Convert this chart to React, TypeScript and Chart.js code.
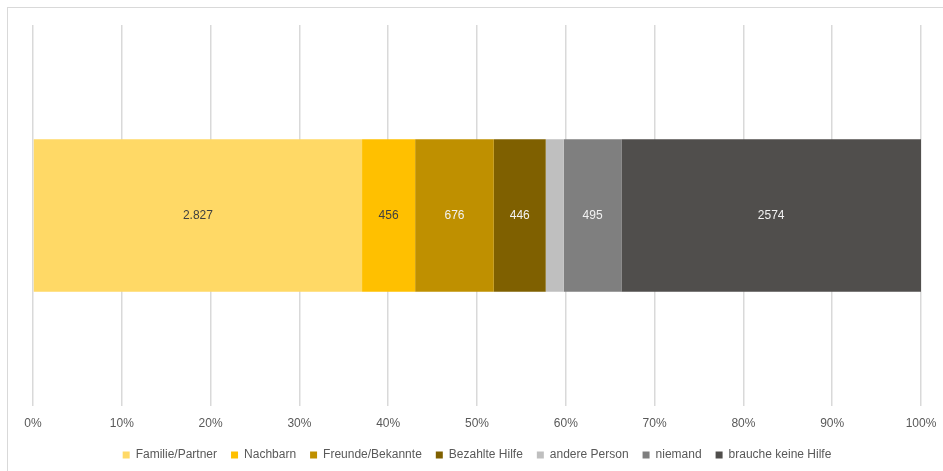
import React, { useEffect, useRef } from "react";
import { Chart, registerables } from "chart.js";

Chart.register(...registerables);

const categories = [""];
const seriesNames = [
  "Familie/Partner",
  "Nachbarn",
  "Freunde/Bekannte",
  "Bezahlte Hilfe",
  "andere Person",
  "niemand",
  "brauche keine Hilfe",
];
const seriesValues = [2827, 456, 676, 446, 155, 495, 2574];
const valueLabels = ["2.827", "456", "676", "446", "", "495", "2574"];
const seriesColors = ["#FFD966", "#FFC000", "#BF9000", "#7F6000", "#BFBFBF", "#7F7F7F", "#504E4C"];
const labelColors = ["#404040", "#404040", "#F2F2F2", "#F2F2F2", "#404040", "#F2F2F2", "#F2F2F2"];
const tickValues = [0, 10, 20, 30, 40, 50, 60, 70, 80, 90, 100];

const FONT = "'Liberation Sans', Arial, sans-serif";

const segmentLabels = {
  id: "segmentLabels",
  afterDatasetsDraw(chart: any) {
    const ctx = chart.ctx;
    ctx.save();
    ctx.font = `12px ${FONT}`;
    ctx.textAlign = "center";
    ctx.textBaseline = "middle";
    chart.data.datasets.forEach((ds: any, i: number) => {
      const meta = chart.getDatasetMeta(i);
      meta.data.forEach((el: any) => {
        const txt = valueLabels[i];
        if (!txt) return;
        const cx = (el.x + el.base) / 2;
        ctx.fillStyle = labelColors[i];
        ctx.fillText(txt, cx, el.y);
      });
    });
    ctx.restore();
  },
};

export default function App() {
  const ref = useRef<HTMLCanvasElement>(null);
  useEffect(() => {
    const total = seriesValues.reduce((a, b) => a + b, 0);
    const chart = new Chart(ref.current!, {
      type: "bar",
      data: {
        labels: categories,
        datasets: seriesNames.map((name, i) => ({
          label: name,
          data: [(seriesValues[i] / total) * 100],
          backgroundColor: seriesColors[i],
          borderWidth: 0,
          barPercentage: 0.4,
          categoryPercentage: 1,
        })),
      },
      options: {
        indexAxis: "y",
        animation: false,
        responsive: false,
        maintainAspectRatio: false,
        layout: { padding: { left: 33, right: 22, top: 25, bottom: 0 } },
        scales: {
          x: {
            stacked: true,
            min: 0,
            max: 100,
            afterBuildTicks: (scale: any) => {
              scale.ticks = tickValues.map((v) => ({ value: v }));
            },
            afterFit: (scale: any) => {
              scale.height = 29;
              scale.paddingLeft = 0;
              scale.paddingRight = 0;
            },
            grid: { color: "#D9D9D9", lineWidth: 1.5, drawTicks: false },
            border: { display: false },
            ticks: {
              padding: 10,
              color: "#595959",
              font: { family: FONT, size: 12 },
              callback: (v: any) => `${v}%`,
            },
          },
          y: { stacked: true, display: false },
        },
        plugins: {
          legend: {
            position: "bottom",
            labels: {
              boxWidth: 7,
              boxHeight: 7,
              padding: 14,
              color: "#595959",
              font: { family: FONT, size: 12 },
            },
          },
          tooltip: { enabled: false },
        },
      },
      plugins: [segmentLabels],
    } as any);
    return () => chart.destroy();
  }, []);

  return (
    <div style={{ position: "fixed", left: 0, top: 0, width: 943, height: 471, background: "#fff", overflow: "hidden" }}>
      <div style={{ position: "absolute", left: 7, top: 7, width: 960, height: 500, border: "1.5px solid #D9D9D9", boxSizing: "border-box" }} />
      <canvas ref={ref} width={943} height={471} style={{ position: "absolute", left: 0, top: 0, width: 943, height: 471 }} />
    </div>
  );
}
